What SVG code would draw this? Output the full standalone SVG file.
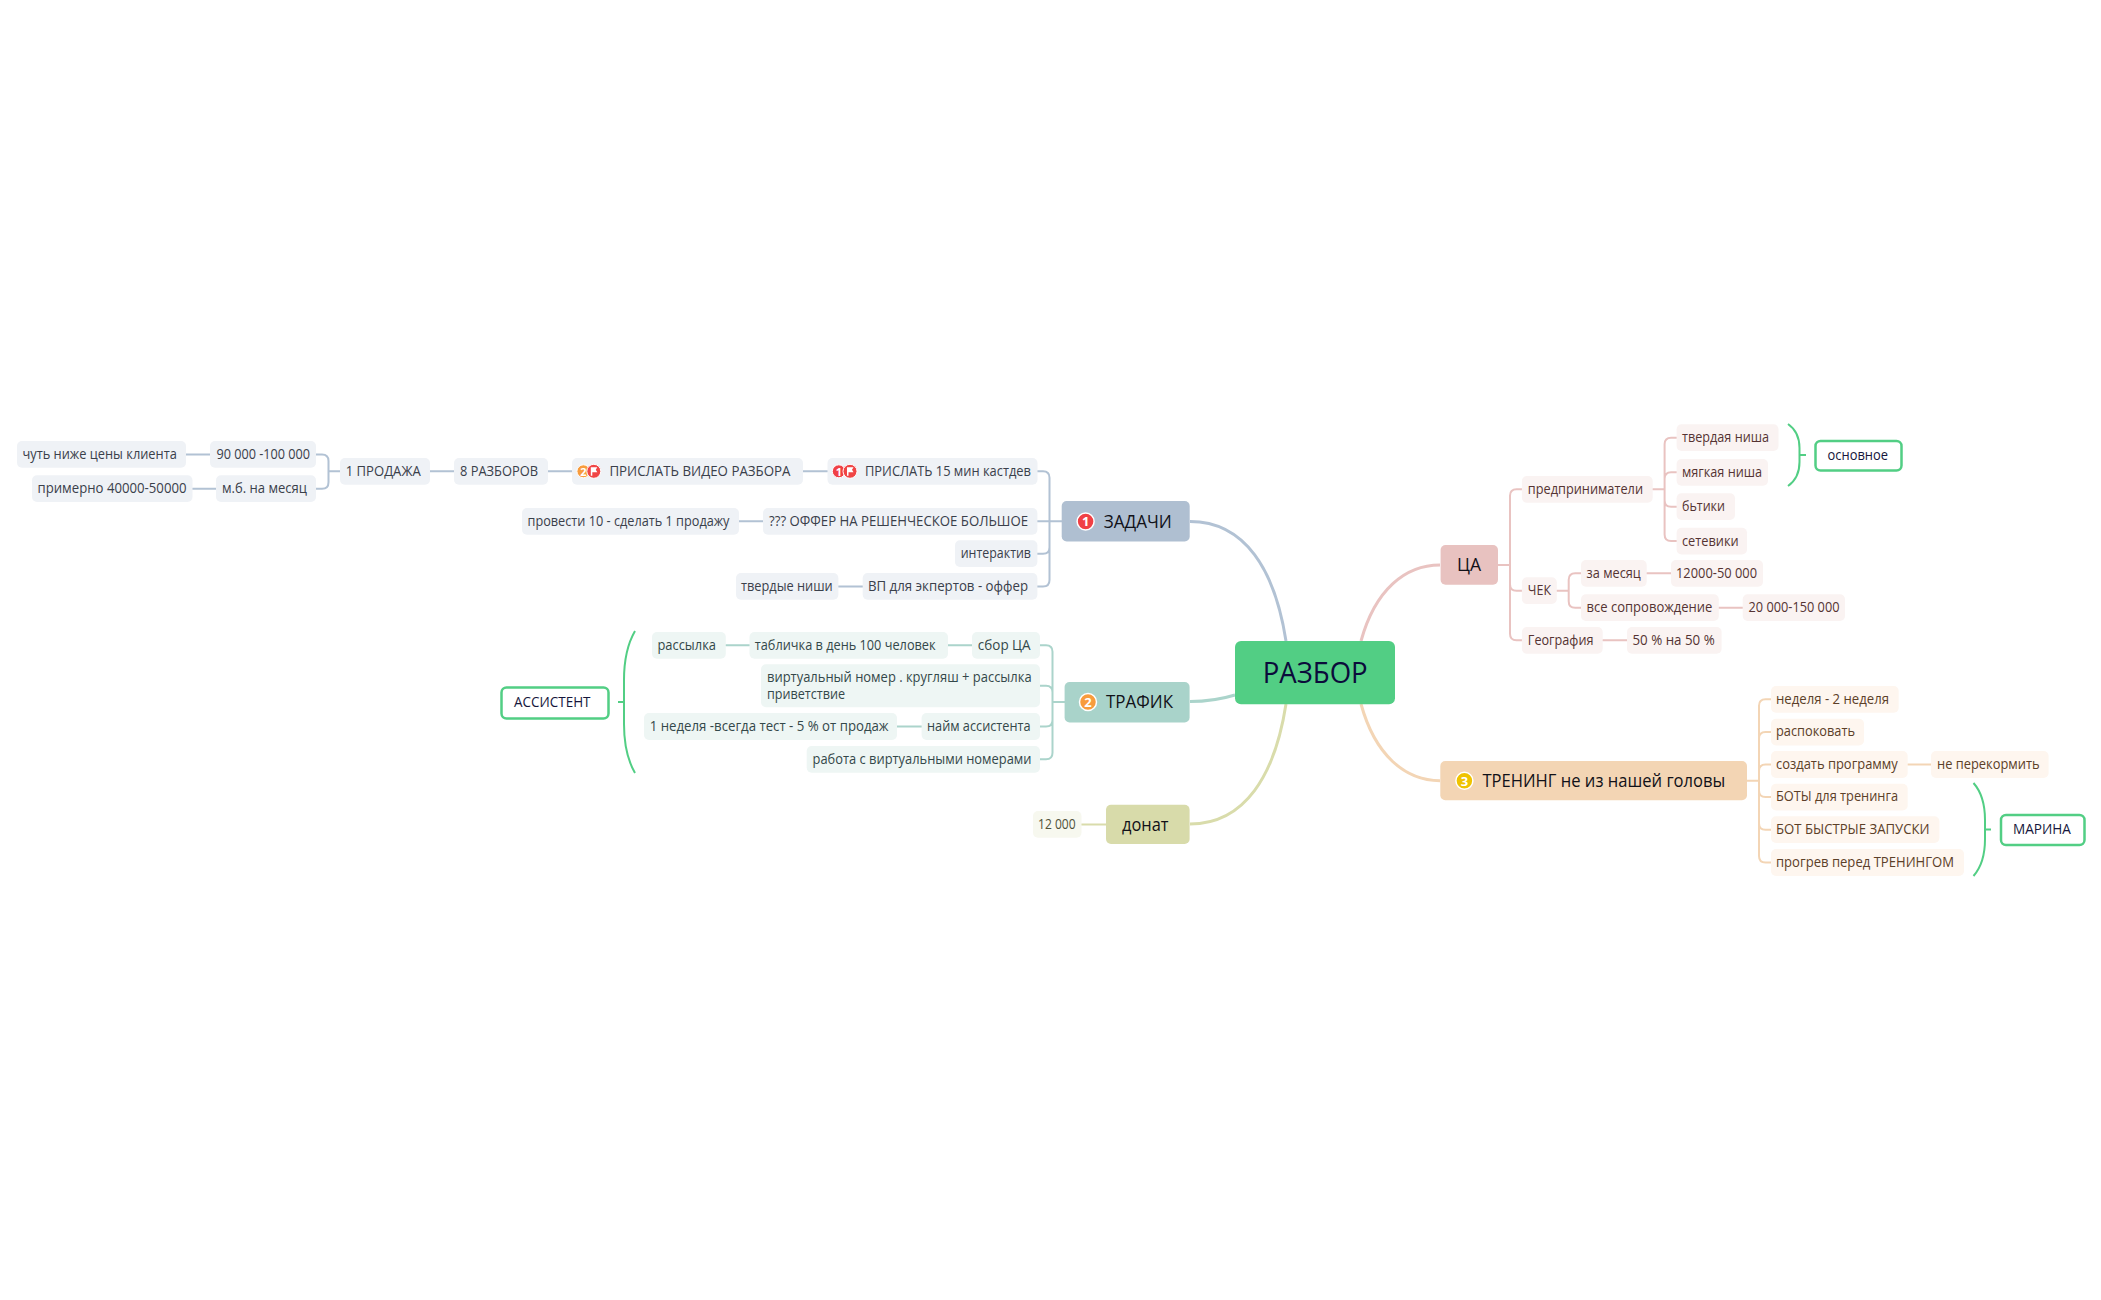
<svg xmlns="http://www.w3.org/2000/svg" width="2101" height="1300" viewBox="0 0 2101 1300">
<style>
text{font-family:"Open Sans","Noto Sans","Liberation Sans",sans-serif;font-size:14px}
.c{fill:none;stroke-width:2;stroke-linecap:round}
.main{fill:none;stroke-width:3}
.blue{stroke:#b2c2d4}.teal{stroke:#abd4cb}.olive{stroke:#d9dcab}.pink{stroke:#e9c3c1}.orange{stroke:#f3d5b5}
.bs{fill:#eff2f6}.bt{fill:#3a404b}
.ts{fill:#eef6f4}.tt{fill:#34484a}
.os{fill:#f7f8ef}.ot{fill:#50523a}
.ps{fill:#faf3f2}.pt{fill:#553333}
.rs{fill:#fef6ef}.rt{fill:#5c4028}
.t1{fill:#111118;font-size:18px}
.sum{fill:#fff;stroke:#52ce84;stroke-width:2.5}
.st{fill:#16163c}
.brace{fill:none;stroke:#52ce84;stroke-width:2}
.num{fill:#fff;font-weight:700;text-anchor:middle}
</style>
<defs>
<g id="flag"><circle r="7" fill="#f04545" stroke="#fff" stroke-width="1"/><path d="M-3 4.500V-4H3.500L2-1.500L3.500 1H-1.500V4.500Z" fill="#fff"/></g>
</defs>
<rect width="2101" height="1300" fill="#fff"/>
<g id="connectors">
<path class="main blue" d="M1190 521.500C1245 521.500 1275 570 1286 641"/>
<path class="main teal" d="M1190 701.500C1208 701.500 1222 699 1235 695"/>
<path class="main olive" d="M1286 704C1275 775 1245 824 1190 824"/>
<path class="main pink" d="M1361 641C1375 590 1405 565 1440 565"/>
<path class="main orange" d="M1361 704C1375 755 1405 780.700 1440 780.700"/>
<path class="c blue" d="M186 454.400H210M192.500 488.700H216M316 454.400h6q6.500 0 6.500 6.500V482.200q0 6.500-6.500 6.500h-6M328.500 471.300H340M430 471.300H454M548 471.300H572M803 471.300H827.500"/>
<path class="c blue" d="M1037 471.300h6q6.500 0 6.500 6.500V580q0 6.500-6.500 6.500h-6M1037 521.300H1062M1037 553.700h6q6.500 0 6.500-6.500M739 521.300H763M838.400 586.500H862.700"/>
<path class="c teal" d="M1040 645.300h6q6.500 0 6.500 6.500V752.800q0 6.500-6.500 6.500h-6M1040 685.800h6q6.500 0 6.500 6.500M1040 726.500h6q6.500 0 6.500-6.500M1052.500 702H1064.600M725.800 645.300H749.500M948 645.300H972M897 726.500H921.600"/>
<path class="c olive" d="M1081.500 824.500H1106"/>
<path class="c pink" d="M1498 565H1510M1521.900 489.300h-5.400q-6.500 0-6.500 6.500V633.800q0 6.500 6.500 6.500h5.400M1510 584.200q0 6.500 6.500 6.500h5.400M1652.700 489.300H1664.600M1676.600 437.700h-5.500q-6.500 0-6.500 6.500V534.500q0 6.500 6.500 6.500h5.500M1664.600 478.800q0-6.500 6.500-6.500h5.500M1664.600 500.200q0 6.500 6.500 6.500h5.500M1556.800 590.700H1568.700M1581 573.300h-5.800q-6.500 0-6.500 6.500V601.200q0 6.500 6.500 6.500h5.800M1646.700 573.300H1671M1718.800 607.700H1742.700M1602.700 640.300H1627"/>
<path class="c orange" d="M1747 780.700H1759M1771 699.300h-5.500q-6.500 0-6.500 6.500V856q0 6.500 6.500 6.500h5.500M1759 738.500q0-6.500 6.500-6.500h5.500M1759 771q0-6.500 6.500-6.500h5.500M1759 790.500q0 6.500 6.500 6.500h5.500M1759 823.200q0 6.500 6.500 6.500h5.500M1907.700 764.500H1931"/>
</g>
<g id="root"><rect x="1235" y="641" width="160" height="63.300" rx="6" fill="#52ce84"/><text x="1262.700" y="682.500" style="font-size:29.500px;fill:#0b0b3b" textLength="105" lengthAdjust="spacingAndGlyphs">РАЗБОР</text></g>

<g id="zadachi"><rect x="1061.700" y="501" width="128" height="40.400" rx="5" fill="#afbfd1"/><circle cx="1085.600" cy="521.500" r="8.500" fill="#f04045" stroke="#fff" stroke-width="1.500"/><text class="num" x="1085.600" y="526.300" style="font-size:13px">1</text><text class="t1" x="1103.800" y="527.500" textLength="68" lengthAdjust="spacingAndGlyphs">ЗАДАЧИ</text></g>
<g id="n1"><rect class="bs" x="827.500" y="458" width="210" height="26.700" rx="5"/><circle cx="838.800" cy="471.300" r="6.500" fill="#f04045" stroke="#fff"/><text class="num" x="838.800" y="475.500" style="font-size:11px">1</text><use href="#flag" x="850" y="471.300"/><text class="bt" x="865" y="476" textLength="166" lengthAdjust="spacingAndGlyphs">ПРИСЛАТЬ 15 мин кастдев</text></g>
<g id="n2"><rect class="bs" x="572" y="458" width="231" height="26.700" rx="5"/><circle cx="583.400" cy="471.300" r="6.500" fill="#f89c3d" stroke="#fff"/><text class="num" x="583.400" y="475.500" style="font-size:11px">2</text><use href="#flag" x="593.800" y="471.300"/><text class="bt" x="609.400" y="476" textLength="181" lengthAdjust="spacingAndGlyphs">ПРИСЛАТЬ ВИДЕО РАЗБОРА</text></g>
<g id="n3"><rect class="bs" x="454" y="458" width="94" height="26.700" rx="5"/><text class="bt" x="460" y="476" textLength="78" lengthAdjust="spacingAndGlyphs">8 РАЗБОРОВ</text></g>
<g id="n4"><rect class="bs" x="340" y="458" width="90" height="26.700" rx="5"/><text class="bt" x="345.700" y="476" textLength="75" lengthAdjust="spacingAndGlyphs">1 ПРОДАЖА</text></g>
<g id="n5"><rect class="bs" x="210" y="441" width="106" height="26.700" rx="5"/><text class="bt" x="216.400" y="459" textLength="93.600" lengthAdjust="spacingAndGlyphs">90 000 -100 000</text></g>
<g id="n6"><rect class="bs" x="17" y="441" width="169" height="26.700" rx="5"/><text class="bt" x="22.500" y="459" textLength="154.300" lengthAdjust="spacingAndGlyphs">чуть ниже цены клиента</text></g>
<g id="n7"><rect class="bs" x="216" y="475.300" width="100" height="26.700" rx="5"/><text class="bt" x="222" y="493.400" textLength="85" lengthAdjust="spacingAndGlyphs">м.б. на месяц</text></g>
<g id="n8"><rect class="bs" x="32" y="475.300" width="160.500" height="26.700" rx="5"/><text class="bt" x="37.500" y="493.400" textLength="149" lengthAdjust="spacingAndGlyphs">примерно 40000-50000</text></g>
<g id="n9"><rect class="bs" x="763" y="508" width="274.400" height="26.700" rx="5"/><text class="bt" x="769" y="526" textLength="259" lengthAdjust="spacingAndGlyphs">??? ОФФЕР НА РЕШЕНЧЕСКОЕ БОЛЬШОЕ</text></g>
<g id="n10"><rect class="bs" x="522" y="508" width="217" height="26.700" rx="5"/><text class="bt" x="527.500" y="526" textLength="202" lengthAdjust="spacingAndGlyphs">провести 10 - сделать 1 продажу</text></g>
<g id="n11"><rect class="bs" x="955" y="540.300" width="82.400" height="26.700" rx="5"/><text class="bt" x="960.700" y="558.400" textLength="70.300" lengthAdjust="spacingAndGlyphs">интерактив</text></g>
<g id="n12"><rect class="bs" x="862.700" y="573" width="174.700" height="26.700" rx="5"/><text class="bt" x="868" y="591.200" textLength="160" lengthAdjust="spacingAndGlyphs">ВП для экпертов - оффер</text></g>
<g id="n13"><rect class="bs" x="736" y="573" width="102.400" height="26.700" rx="5"/><text class="bt" x="741" y="591.200" textLength="91.700" lengthAdjust="spacingAndGlyphs">твердые ниши</text></g>

<g id="trafik"><rect x="1064.600" y="682" width="125" height="40.400" rx="5" fill="#a9d3ca"/><circle cx="1088" cy="702" r="8.500" fill="#f89c3d" stroke="#fff" stroke-width="1.500"/><text class="num" x="1088" y="706.800" style="font-size:13px">2</text><text class="t1" x="1106" y="708" textLength="67" lengthAdjust="spacingAndGlyphs">ТРАФИК</text></g>
<g id="t1"><rect class="ts" x="972" y="632" width="68" height="26.700" rx="5"/><text class="tt" x="977.800" y="650" textLength="52.800" lengthAdjust="spacingAndGlyphs">сбор ЦА</text></g>
<g id="t2"><rect class="ts" x="749.500" y="632" width="198.500" height="26.700" rx="5"/><text class="tt" x="754.800" y="650" textLength="180.800" lengthAdjust="spacingAndGlyphs">табличка в день 100 человек</text></g>
<g id="t3"><rect class="ts" x="652" y="632" width="73.800" height="26.700" rx="5"/><text class="tt" x="657.400" y="650" textLength="58.600" lengthAdjust="spacingAndGlyphs">рассылка</text></g>
<g id="t4"><rect class="ts" x="761" y="664.300" width="279" height="43" rx="5"/><text class="tt" x="767" y="682.300" textLength="264.600" lengthAdjust="spacingAndGlyphs">виртуальный номер . кругляш + рассылка</text><text class="tt" x="767" y="699.300" textLength="78" lengthAdjust="spacingAndGlyphs">приветствие</text></g>
<g id="t5"><rect class="ts" x="921.600" y="713" width="118.400" height="27" rx="5"/><text class="tt" x="927" y="731.200" textLength="103.600" lengthAdjust="spacingAndGlyphs">найм ассистента</text></g>
<g id="t6"><rect class="ts" x="644" y="713" width="253" height="27" rx="5"/><text class="tt" x="649.700" y="731.200" textLength="238.900" lengthAdjust="spacingAndGlyphs">1 неделя -всегда тест - 5 % от продаж</text></g>
<g id="t7"><rect class="ts" x="806.700" y="746" width="233.300" height="26.700" rx="5"/><text class="tt" x="812.500" y="764" textLength="219" lengthAdjust="spacingAndGlyphs">работа с виртуальными номерами</text></g>
<g id="assist"><path class="brace" d="M635 631Q624 650 624 680V724Q624 754 635 773M618 702H624"/><rect class="sum" x="501.500" y="687.500" width="107" height="31" rx="5"/><text class="st" x="514" y="707.300" textLength="76.500" lengthAdjust="spacingAndGlyphs">АССИСТЕНТ</text></g>

<g id="donat"><rect x="1106" y="804.700" width="83.600" height="39.300" rx="5" fill="#d8dbaa"/><text class="t1" x="1122" y="830.500" textLength="46.500" lengthAdjust="spacingAndGlyphs">донат</text></g>
<g id="d1"><rect class="os" x="1033" y="811" width="48.500" height="26.700" rx="5"/><text class="ot" x="1038" y="829" textLength="37.700" lengthAdjust="spacingAndGlyphs">12 000</text></g>

<g id="tsa"><rect x="1440.600" y="545" width="57.400" height="39.700" rx="5" fill="#e8c2c0"/><text class="t1" x="1457" y="571" textLength="24" lengthAdjust="spacingAndGlyphs">ЦА</text></g>
<g id="p1"><rect class="ps" x="1521.900" y="476" width="130.800" height="26.700" rx="5"/><text class="pt" x="1527.800" y="494" textLength="115.200" lengthAdjust="spacingAndGlyphs">предприниматели</text></g>
<g id="p2"><rect class="ps" x="1676.600" y="424.300" width="101.900" height="26.700" rx="5"/><text class="pt" x="1682" y="442.400" textLength="87" lengthAdjust="spacingAndGlyphs">твердая ниша</text></g>
<g id="p3"><rect class="ps" x="1676.600" y="459" width="91.400" height="26.700" rx="5"/><text class="pt" x="1682" y="477" textLength="80" lengthAdjust="spacingAndGlyphs">мягкая ниша</text></g>
<g id="p4"><rect class="ps" x="1676.600" y="493.300" width="58.400" height="26.700" rx="5"/><text class="pt" x="1682" y="511.400" textLength="43" lengthAdjust="spacingAndGlyphs">бьтики</text></g>
<g id="p5"><rect class="ps" x="1676.600" y="527.700" width="70.400" height="26.700" rx="5"/><text class="pt" x="1682" y="545.800" textLength="56.600" lengthAdjust="spacingAndGlyphs">сетевики</text></g>
<g id="p6"><rect class="ps" x="1521.900" y="577.300" width="34.900" height="26.700" rx="5"/><text class="pt" x="1527.800" y="595.400" textLength="23.200" lengthAdjust="spacingAndGlyphs">ЧЕК</text></g>
<g id="p7"><rect class="ps" x="1581" y="560" width="65.700" height="26.700" rx="5"/><text class="pt" x="1586.600" y="578" textLength="54.200" lengthAdjust="spacingAndGlyphs">за месяц</text></g>
<g id="p8"><rect class="ps" x="1671" y="560" width="92" height="26.700" rx="5"/><text class="pt" x="1676" y="578" textLength="81" lengthAdjust="spacingAndGlyphs">12000-50 000</text></g>
<g id="p9"><rect class="ps" x="1581" y="594.300" width="137.800" height="26.700" rx="5"/><text class="pt" x="1586.600" y="612.400" textLength="125.800" lengthAdjust="spacingAndGlyphs">все сопровождение</text></g>
<g id="p10"><rect class="ps" x="1742.700" y="594.300" width="102.300" height="26.700" rx="5"/><text class="pt" x="1748.500" y="612.400" textLength="91" lengthAdjust="spacingAndGlyphs">20 000-150 000</text></g>
<g id="p11"><rect class="ps" x="1521.900" y="627" width="80.800" height="26.700" rx="5"/><text class="pt" x="1527.800" y="645" textLength="65.700" lengthAdjust="spacingAndGlyphs">География</text></g>
<g id="p12"><rect class="ps" x="1627" y="627" width="94.600" height="26.700" rx="5"/><text class="pt" x="1632.500" y="645" textLength="82.200" lengthAdjust="spacingAndGlyphs">50 % на 50 %</text></g>
<g id="osn"><path class="brace" d="M1788 424Q1799.500 432 1799.500 448V462Q1799.500 478 1788 486M1799.500 455H1806"/><rect class="sum" x="1815.500" y="441" width="86" height="29.500" rx="5"/><text class="st" x="1827.600" y="459.500" textLength="60.400" lengthAdjust="spacingAndGlyphs">основное</text></g>

<g id="trening"><rect x="1440.300" y="761" width="306.700" height="39.300" rx="5" fill="#f3d5b4"/><circle cx="1464.400" cy="780.700" r="8.500" fill="#efc300" stroke="#fff" stroke-width="1.500"/><text class="num" x="1464.400" y="785.500" style="font-size:13px">3</text><text class="t1" x="1482.400" y="786.800" textLength="242.900" lengthAdjust="spacingAndGlyphs">ТРЕНИНГ не из нашей головы</text></g>
<g id="r1"><rect class="rs" x="1771" y="686" width="127.700" height="26.700" rx="5"/><text class="rt" x="1776" y="704" textLength="113" lengthAdjust="spacingAndGlyphs">неделя - 2 неделя</text></g>
<g id="r2"><rect class="rs" x="1771" y="718.700" width="93" height="26.700" rx="5"/><text class="rt" x="1776" y="736.400" textLength="79" lengthAdjust="spacingAndGlyphs">распоковать</text></g>
<g id="r3"><rect class="rs" x="1771" y="751" width="136.700" height="27" rx="5"/><text class="rt" x="1776" y="769.200" textLength="121.800" lengthAdjust="spacingAndGlyphs">создать программу</text></g>
<g id="r4"><rect class="rs" x="1931" y="751" width="117.600" height="27" rx="5"/><text class="rt" x="1937" y="769.200" textLength="102.600" lengthAdjust="spacingAndGlyphs">не перекормить</text></g>
<g id="r5"><rect class="rs" x="1771" y="783.700" width="136.700" height="26.700" rx="5"/><text class="rt" x="1776" y="801.400" textLength="122" lengthAdjust="spacingAndGlyphs">БОТЫ для тренинга</text></g>
<g id="r6"><rect class="rs" x="1771" y="816.300" width="168.400" height="26.700" rx="5"/><text class="rt" x="1776" y="834.400" textLength="153.500" lengthAdjust="spacingAndGlyphs">БОТ БЫСТРЫЕ ЗАПУСКИ</text></g>
<g id="r7"><rect class="rs" x="1771" y="849" width="193" height="27" rx="5"/><text class="rt" x="1776" y="867.200" textLength="178" lengthAdjust="spacingAndGlyphs">прогрев перед ТРЕНИНГОМ</text></g>
<g id="marina"><path class="brace" d="M1973.500 783Q1985 796 1985 820V839Q1985 863 1973.500 876M1985 829.500H1991"/><rect class="sum" x="2001" y="815" width="83.500" height="30" rx="5"/><text class="st" x="2013" y="834" textLength="57.800" lengthAdjust="spacingAndGlyphs">МАРИНА</text></g>
</svg>
